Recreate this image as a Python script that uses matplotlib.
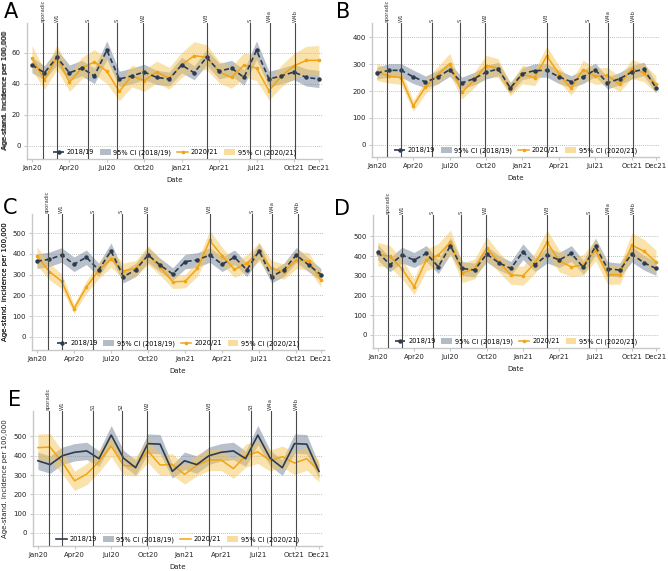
import matplotlib
matplotlib.use("Agg")
import matplotlib.pyplot as plt
from matplotlib.lines import Line2D
from matplotlib.patches import Patch
import numpy as np

plt.rcParams['font.family'] = ['DejaVu Sans']

# ---------------- data ----------------
months = list(range(24))  # Jan20 ... Dec21
tick_pos = [0, 3, 6, 9, 12, 15, 18, 21, 23]
tick_labels = ["Jan20", "Apr20", "Jul20", "Oct20", "Jan21", "Apr21", "Jul21", "Oct21", "Dec21"]

vline_pos = [0.87, 2.0, 4.53, 6.85, 8.93, 14.0, 17.45, 19.05, 21.12]
vline_labels = ["sporadic", "W1", "S", "S", "W2", "W3", "S", "W4a", "W4b"]
vline_labels_e = ["sporadic", "W1", "S1", "S2", "W2", "W3", "S3", "W4a", "W4b"]

# Panel A
a_ref = [52, 47, 57, 47, 50, 45, 61.5, 43, 45, 47.5, 44, 43,
         52, 47, 57, 48, 50, 44, 61.5, 43, 45, 47.5, 44, 43]
a_ref_hw = [5, 4.5, 5, 5, 5, 5, 6, 5, 5, 5, 4.5, 4.5,
            5, 4.5, 5, 5, 5, 5, 6, 5, 5, 5, 5.5, 5.5]
a_cur = [56.5, 42.5, 57, 41, 50, 54, 48, 35, 45, 42, 47.5, 43.5,
         52, 58, 57, 47.5, 44, 52, 50, 35.5, 45, 51.5, 55, 55]
a_cur_hw = [8, 6, 8, 6, 7, 8, 8, 6, 7, 7, 7, 7,
            8, 9, 8, 7, 7, 8, 8, 6, 7, 8, 9, 9.5]

# Panel B
b_ref = [267, 277, 277, 253, 234, 251, 280, 230, 246, 270, 282, 212,
         265, 276, 277, 253, 235, 253, 279, 230, 246, 270, 282, 212]
b_ref_hw = [22, 25, 25, 25, 22, 25, 25, 22, 23, 25, 25, 20,
            22, 25, 25, 25, 22, 25, 25, 22, 23, 25, 25, 20]
b_cur = [272, 255, 250, 145, 215, 260, 302, 195, 240, 295, 285, 205,
         262, 250, 330, 265, 210, 280, 255, 258, 225, 282, 268, 225]
b_cur_hw = [33, 25, 25, 20, 25, 30, 38, 25, 28, 38, 35, 22,
            35, 30, 37, 30, 25, 35, 30, 30, 28, 35, 33, 32]

# Panel C
c_ref = [365, 374, 395, 350, 384, 323, 415, 290, 323, 395, 345, 303,
         363, 371, 395, 350, 384, 323, 415, 290, 323, 395, 347, 300]
c_ref_hw = [35, 35, 35, 35, 35, 32, 38, 30, 32, 36, 33, 30,
            35, 35, 35, 35, 35, 32, 38, 30, 32, 36, 33, 30]
c_cur = [390, 315, 268, 135, 240, 320, 375, 318, 330, 395, 335, 265,
         268, 330, 465, 390, 325, 355, 410, 330, 315, 370, 365, 275]
c_cur_hw = [45, 40, 35, 22, 30, 38, 40, 38, 38, 45, 40, 32,
            32, 38, 48, 42, 38, 40, 45, 38, 37, 42, 42, 35]

# Panel D
d_ref = [420, 356, 405, 380, 413, 346, 451, 337, 329, 410, 366, 337,
         422, 356, 405, 380, 413, 342, 449, 336, 329, 410, 366, 337]
d_ref_hw = [40, 35, 40, 38, 40, 35, 42, 35, 35, 40, 37, 35,
            40, 35, 40, 38, 40, 35, 42, 35, 35, 40, 37, 35]
d_cur = [410, 398, 335, 245, 380, 405, 470, 315, 335, 440, 370, 305,
         300, 365, 470, 375, 345, 355, 430, 305, 305, 455, 425, 370]
d_cur_hw = [60, 55, 50, 40, 55, 58, 62, 50, 50, 58, 50, 48,
            48, 52, 62, 55, 50, 52, 55, 48, 48, 62, 60, 60]

# Panel E
e_ref = [374, 354, 400, 418, 425, 385, 507, 388, 338, 463, 460, 319,
         374, 354, 400, 418, 425, 385, 507, 388, 338, 463, 460, 319]
e_ref_hw = [45, 45, 45, 45, 45, 40, 50, 40, 40, 50, 50, 35,
            45, 45, 45, 45, 45, 40, 50, 40, 40, 50, 50, 35]
e_cur = [442, 445, 365, 270, 305, 370, 450, 350, 345, 425, 352, 355,
         303, 350, 378, 378, 333, 400, 420, 375, 395, 362, 385, 320]
e_cur_hw = [70, 70, 60, 50, 55, 55, 55, 50, 50, 60, 55, 55,
            50, 55, 55, 55, 50, 60, 60, 55, 55, 60, 60, 55]

# ---------------- styling ----------------
NAVY = "#2c3b4f"
ORANGE = "#f2a414"
GRAYFILL = "#7f8ea1"
YELFILL = "#f7c65a"
VLINE = "#4a4a4a"
AXC = "#c8c8c8"

W, H = 668, 571
fig = plt.figure(figsize=(W / 100, H / 100), dpi=100)


def px_axes(left, top, right, bottom):
    return fig.add_axes([left / W, 1 - bottom / H, (right - left) / W, (bottom - top) / H])


panels = [
    dict(letter="A", box=(27, 23, 322, 159), ylim=(-8.4, 79), yt=[0, 20, 40, 60],
         ref=a_ref, rhw=a_ref_hw, cur=a_cur, chw=a_cur_hw, lpos=(4, 2), markers=True, vl=vline_labels),
    dict(letter="B", box=(372, 23, 659, 157), ylim=(-45, 453), yt=[0, 100, 200, 300, 400],
         ref=b_ref, rhw=b_ref_hw, cur=b_cur, chw=b_cur_hw, lpos=(336, 2), markers=True, vl=vline_labels),
    dict(letter="C", box=(32, 214, 324, 350), ylim=(-64, 593), yt=[0, 100, 200, 300, 400, 500],
         ref=c_ref, rhw=c_ref_hw, cur=c_cur, chw=c_cur_hw, lpos=(3, 198), markers=True, vl=vline_labels),
    dict(letter="D", box=(373, 215, 659, 348), ylim=(-66, 608), yt=[0, 100, 200, 300, 400, 500],
         ref=d_ref, rhw=d_ref_hw, cur=d_cur, chw=d_cur_hw, lpos=(334, 199), markers=True, vl=vline_labels),
    dict(letter="E", box=(33, 411, 322, 546), ylim=(-68, 632), yt=[0, 100, 200, 300, 400, 500],
         ref=e_ref, rhw=e_ref_hw, cur=e_cur, chw=e_cur_hw, lpos=(8, 390), markers=False, vl=vline_labels_e),
]

x = np.array(months)
for p in panels:
    l, t, r, b = p["box"]
    ax = px_axes(l, t, r, b)
    ref = np.array(p["ref"], float); rhw = np.array(p["rhw"], float)
    cur = np.array(p["cur"], float); chw = np.array(p["chw"], float)

    for yv in p["yt"]:
        ax.axhline(yv, color="#a8a8a8", lw=0.6, ls=(0, (1, 1.5)), zorder=1)

    ax.fill_between(x, ref - rhw, ref + rhw, color=GRAYFILL, alpha=0.55, lw=0, zorder=2)
    ax.fill_between(x, cur - chw, cur + chw, color=YELFILL, alpha=0.5, lw=0, zorder=3)

    if p["markers"]:
        ax.plot(x, ref, color=NAVY, lw=1.2, ls=(0, (3, 1.8)), marker="o", ms=2.2, zorder=5)
        ax.plot(x, cur, color=ORANGE, lw=1.1, marker="o", ms=1.6, zorder=4)
    else:
        ax.plot(x, ref, color=NAVY, lw=1.2, zorder=5)
        ax.plot(x, cur, color=ORANGE, lw=1.1, zorder=4)

    for xv, lab in zip(vline_pos, p["vl"]):
        ax.axvline(xv, color=VLINE, lw=0.8, zorder=6)
        ax.text(xv, 1.01, lab, transform=ax.get_xaxis_transform(), rotation=90,
                ha="center", va="bottom", fontsize=3.8, color="#333333", clip_on=False)

    ax.set_xlim(-0.4, 23.25)
    ax.set_ylim(*p["ylim"])
    ax.set_xticks(tick_pos)
    ax.set_xticklabels(tick_labels)
    ax.set_yticks(p["yt"])
    ax.tick_params(axis="both", labelsize=5, colors=AXC, labelcolor="#222222", length=2.5, width=0.8, pad=2)
    for s in ["top", "right"]:
        ax.spines[s].set_visible(False)
    for s in ["left", "bottom"]:
        ax.spines[s].set_color(AXC)
        ax.spines[s].set_linewidth(1.0)

    ax.set_xlabel("Date", fontsize=5, color="#222222", labelpad=4)
    ax.set_ylabel("Age-stand. incidence per 100,000", fontsize=5, color="#222222")
    ax.yaxis.set_label_coords((8 - l) / (r - l), 0.5)

    if p["markers"]:
        h1 = Line2D([], [], color=NAVY, lw=1.2, ls=(0, (3, 1.8)), marker="o", ms=2.2)
        h3 = Line2D([], [], color=ORANGE, lw=1.1, marker="o", ms=1.6)
    else:
        h1 = Line2D([], [], color=NAVY, lw=1.2)
        h3 = Line2D([], [], color=ORANGE, lw=1.1)
    h2 = Patch(facecolor=GRAYFILL, alpha=0.6, edgecolor="none")
    h4 = Patch(facecolor=YELFILL, alpha=0.6, edgecolor="none")
    leg = ax.legend([h1, h2, h3, h4], ["2018/19", "95% CI (2018/19)", "2020/21", "95% CI (2020/21)"],
                    loc="lower center", bbox_to_anchor=(0.5, -0.005), ncol=4, frameon=False,
                    fontsize=4.8, handlelength=1.6, handleheight=1.0, handletextpad=0.4,
                    columnspacing=0.9, borderaxespad=0.2)
    leg.set_zorder(7)

    fig.text(p["lpos"][0] / W, 1 - p["lpos"][1] / H, p["letter"], fontsize=15, va="top", ha="left")

fig.savefig("out.png", dpi=100)
